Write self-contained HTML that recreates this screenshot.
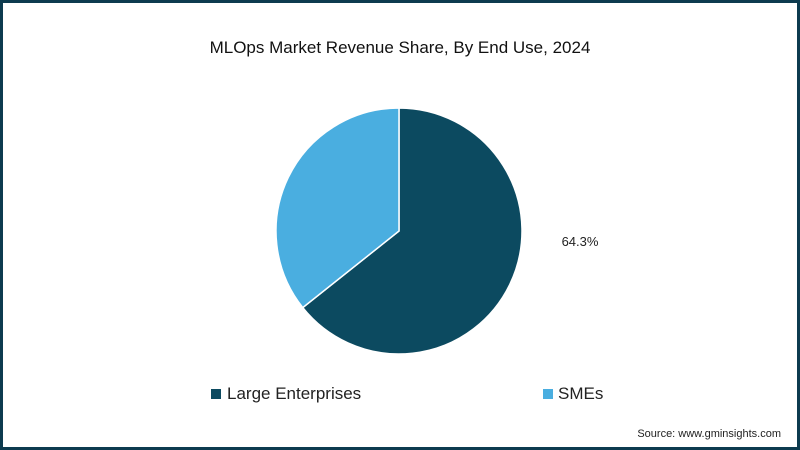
<!DOCTYPE html>
<html><head><meta charset="utf-8"><style>
body{margin:0;width:800px;height:450px;overflow:hidden;background:#fff;font-family:"Liberation Sans",sans-serif}
#frame{position:absolute;left:0;top:0;width:794px;height:444px;border:3px solid #0d3b4f;background:#fff}
</style></head><body>
<div id="frame"></div>
<svg id="chart" width="800" height="450" style="position:absolute;left:0;top:0">
<text x="400" y="53" text-anchor="middle" font-size="17" fill="#111">MLOps Market Revenue Share, By End Use, 2024</text>
<g id="slices"></g>
<text x="580" y="246" text-anchor="middle" font-size="13" fill="#222" id="lbl">64.3%</text>
<rect x="211" y="389" width="10" height="10" fill="#0c4a60"/>
<text x="227" y="399" font-size="17" fill="#222">Large Enterprises</text>
<rect x="543" y="389" width="10" height="10" fill="#4aaee0"/>
<text x="558" y="399" font-size="17" fill="#222">SMEs</text>
<text x="781" y="437" text-anchor="end" font-size="11" fill="#222">Source: www.gminsights.com</text>
</svg>
<script>
const categories=["Large Enterprises","SMEs"];
const values=[64.3,35.7];
const colors=["#0c4a60","#4aaee0"];
const cx=399,cy=231,r=123;
const g=document.getElementById('slices');
const total=values.reduce((a,b)=>a+b,0);
let a0=-Math.PI/2;
values.forEach((v,i)=>{
  const a1=a0+v/total*2*Math.PI;
  const large=(a1-a0)>Math.PI?1:0;
  const p=document.createElementNS('http://www.w3.org/2000/svg','path');
  p.setAttribute('d',`M${cx},${cy} L${cx+r*Math.cos(a0)},${cy+r*Math.sin(a0)} A${r},${r} 0 ${large} 1 ${cx+r*Math.cos(a1)},${cy+r*Math.sin(a1)} Z`);
  p.setAttribute('fill',colors[i]);
  p.setAttribute('stroke','#fff');
  p.setAttribute('stroke-width','1.5');
  
  
  g.appendChild(p);
  a0=a1;
});
document.getElementById('lbl').textContent=values[0].toFixed(1)+'%';
</script>
</body></html>
